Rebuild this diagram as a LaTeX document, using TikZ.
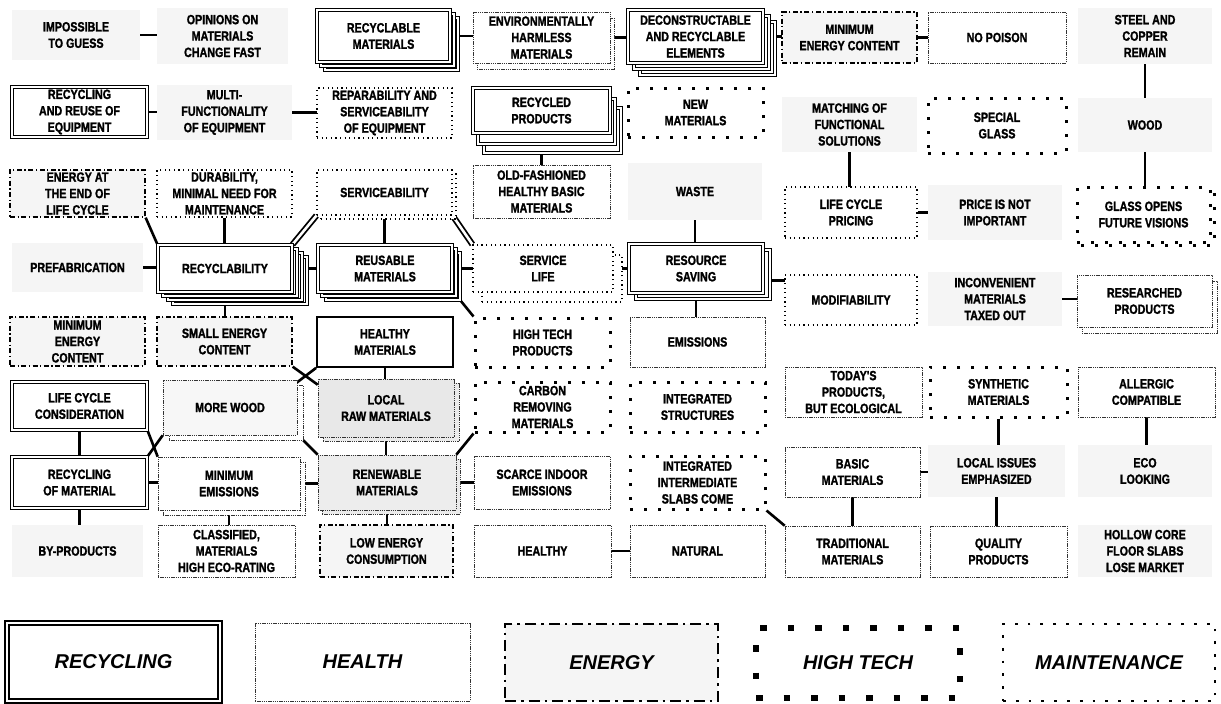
\documentclass[tikz,border=0pt]{standalone}
\usepackage{fontspec}
\setmainfont{Liberation Sans}
\newfontfamily\labfont{Liberation Sans Bold}[FakeStretch=0.8, FakeBold=1.5]
\usetikzlibrary{shadows}
\pgfdeclarelayer{background}
\pgfsetlayers{background,main}

\tikzset{
  lbl/.style={align=center, inner sep=1pt, font=\labfont\fontsize{13.4}{16.4}\selectfont},
  % border types of the five categories
  recline/.style={draw=black, line width=1.1pt, double=white, double distance=1.5pt},
  hline/.style={draw=black!80, line width=0.6pt, dash pattern=on 1.4pt off 0.8pt},
  eline/.style={draw=black, line width=1.3pt, dash pattern=on 5pt off 2.5pt on 1.3pt off 2.5pt},
  tline/.style={draw=black, line width=3pt, dash pattern=on 3pt off 11pt},
  mline/.style={draw=black, line width=1.2pt, dash pattern=on 1.2pt off 3.4pt},
  speck/.style={fill=black!4},
  recbox/.style={lbl, recline, fill=white},
  hbox/.style={lbl, hline, fill=white},
  ebox/.style={lbl, eline, speck},
  tbox/.style={lbl, tline, fill=white},
  mbox/.style={lbl, mline, fill=white},
  pbox/.style={lbl, speck},
  sbox/.style={lbl, draw=black, line width=1.8pt, fill=white},
  % stacked copies behind a box
  rshadow/.style 2 args={copy shadow={shadow xshift=#1pt, shadow yshift=-#2pt, recline, fill=white}},
  hshadow/.style 2 args={copy shadow={shadow xshift=#1pt, shadow yshift=-#2pt, hline, fill=white}},
  hsshadow/.style 2 args={copy shadow={shadow xshift=#1pt, shadow yshift=-#2pt, hline, fill=black!8}},
  mshadow/.style 2 args={copy shadow={shadow xshift=#1pt, shadow yshift=-#2pt, mline, fill=white}},
  tshadow/.style 2 args={copy shadow={shadow xshift=#1pt, shadow yshift=-#2pt, tline, fill=white}},
  % connectors
  conn/.style={line width=2.6pt, line cap=butt},
  dconn/.style={line width=1.8pt, double=white, double distance=2.6pt},
  % legend
  lg/.style={align=center, font=\bfseries\itshape\fontsize{20}{24}\selectfont},
  lrec/.style={lg, draw=black, line width=1.6pt, double=white, double distance=2pt, fill=white},
  lhea/.style={lg, hline, fill=white},
  lene/.style={lg, draw=black, line width=2.6pt, dash pattern=on 11pt off 5pt on 2.6pt off 5pt, speck},
  ltec/.style={lg, draw=black, line width=6.5pt, dash pattern=on 6.5pt off 21pt, fill=white},
  lmai/.style={lg, draw=black, line width=2.8pt, dash pattern=on 2.8pt off 10pt, fill=white},
}

% name, style, x1, y1, x2, y2, text
\newcommand\placebox[7]{%
  \pgfmathsetmacro\pbw{#5-#3}%
  \pgfmathsetmacro\pbh{#6-#4}%
  \node[#2, minimum width=\pbw pt, minimum height=\pbh pt] (#1) at ({(#3+#5)/2},{(#4+#6)/2}) {#7};}

\begin{document}
\begin{tikzpicture}[x=1pt,y=-1pt]
\useasboundingbox (0,0) rectangle (1221,704);
\begin{pgfonlayer}{background}
  \fill[white] (0,0) rectangle (1221,704);
\end{pgfonlayer}

% row 1
\placebox{n1}{pbox}{12}{10}{140}{60}{IMPOSSIBLE\\TO GUESS}
\placebox{n2}{pbox}{157}{8}{288}{64}{OPINIONS ON\\MATERIALS\\CHANGE FAST}
\placebox{n3}{recbox, rshadow={8}{8}, rshadow={4}{4}}{317}{10}{450}{62}{RECYCLABLE\\MATERIALS}
\placebox{n4}{hbox, hshadow={4}{6}}{473}{12}{610}{63}{ENVIRONMENTALLY\\HARMLESS\\MATERIALS}
\placebox{n5}{recbox, rshadow={12}{12}, rshadow={6}{6}}{628}{10}{763}{63}{DECONSTRUCTABLE\\AND RECYCLABLE\\ELEMENTS}
\placebox{n6}{ebox}{782}{12}{917}{63}{MINIMUM\\ENERGY CONTENT}
\placebox{n7}{hbox}{928}{12}{1066}{63}{NO POISON}
\placebox{n8}{pbox}{1078}{8}{1212}{64}{STEEL AND\\COPPER\\REMAIN}

% row 2
\placebox{n9}{recbox}{12}{87}{147}{137}{RECYCLING\\AND REUSE OF\\EQUIPMENT}
\placebox{n10}{pbox}{157}{85}{292}{140}{MULTI-\\FUNCTIONALITY\\OF EQUIPMENT}
\placebox{n11}{mbox}{317}{88}{452}{138}{REPARABILITY AND\\SERVICEABILITY\\OF EQUIPMENT}
\placebox{n12}{recbox, rshadow={11}{20}, rshadow={5}{11}}{473}{88}{610}{133}{RECYCLED\\PRODUCTS}
\placebox{n13}{tbox}{628}{88}{763}{137}{NEW\\MATERIALS}
\placebox{n14}{pbox}{782}{97}{917}{152}{MATCHING OF\\FUNCTIONAL\\SOLUTIONS}
\placebox{n15}{tbox}{928}{98}{1066}{153}{SPECIAL\\GLASS}
\placebox{n16}{pbox}{1078}{98}{1212}{152}{WOOD}

% row 3
\placebox{n17}{ebox}{10}{170}{145}{217}{ENERGY AT\\THE END OF\\LIFE CYCLE}
\placebox{n18}{mbox}{157}{170}{292}{217}{DURABILITY,\\MINIMAL NEED FOR\\MAINTENANCE}
\placebox{n19}{mbox, mshadow={4}{4}}{317}{170}{452}{215}{SERVICEABILITY}
\placebox{n20}{hbox}{473}{165}{610}{218}{OLD-FASHIONED\\HEALTHY BASIC\\MATERIALS}
\placebox{n21}{pbox}{628}{163}{762}{220}{WASTE}
\placebox{n22}{mbox}{785}{187}{917}{238}{LIFE CYCLE\\PRICING}
\placebox{n23}{pbox}{928}{185}{1062}{240}{PRICE IS NOT\\IMPORTANT}
\placebox{n24}{tbox, tshadow={4}{3}}{1077}{187}{1210}{242}{GLASS OPENS\\FUTURE VISIONS}

% row 4
\placebox{n25}{pbox}{12}{243}{143}{292}{PREFABRICATION}
\placebox{n26}{recbox, rshadow={15}{12}, rshadow={10}{8}, rshadow={5}{4}}{158}{245}{292}{292}{RECYCLABILITY}
\placebox{n27}{recbox, rshadow={8}{8}, rshadow={4}{4}}{318}{245}{452}{292}{REUSABLE\\MATERIALS}
\placebox{n28}{mbox, mshadow={9}{10}}{473}{245}{613}{292}{SERVICE\\LIFE}
\placebox{n29}{recbox, rshadow={7}{6}}{629}{244}{763}{293}{RESOURCE\\SAVING}
\placebox{n30}{mbox}{785}{275}{917}{325}{MODIFIABILITY}
\placebox{n31}{pbox}{928}{272}{1062}{326}{INCONVENIENT\\MATERIALS\\TAXED OUT}
\placebox{n32}{hbox, hshadow={5}{6}}{1077}{275}{1212}{327}{RESEARCHED\\PRODUCTS}

% row 5
\placebox{n33}{ebox}{10}{317}{145}{366}{MINIMUM\\ENERGY\\CONTENT}
\placebox{n34}{ebox}{157}{317}{292}{366}{SMALL ENERGY\\CONTENT}
\placebox{n35}{sbox}{317}{317}{453}{367}{HEALTHY\\MATERIALS}
\placebox{n36}{tbox}{475}{318}{610}{367}{HIGH TECH\\PRODUCTS}
\placebox{n37}{hbox}{630}{317}{765}{367}{EMISSIONS}

% row 6
\placebox{n38}{recbox}{12}{382}{147}{430}{LIFE CYCLE\\CONSIDERATION}
\placebox{n39}{hbox, fill=black!3, hshadow={6}{5}}{163}{380}{297}{435}{MORE WOOD}
\placebox{n40}{hbox, fill=black!9, hsshadow={5}{4}}{318}{379}{454}{437}{LOCAL\\RAW MATERIALS}
\placebox{n41}{tbox}{475}{382}{610}{432}{CARBON\\REMOVING\\MATERIALS}
\placebox{n42}{tbox}{630}{382}{765}{432}{INTEGRATED\\STRUCTURES}
\placebox{n43}{hbox}{785}{367}{922}{417}{TODAY'S\\PRODUCTS,\\BUT ECOLOGICAL}
\placebox{n44}{tbox}{930}{367}{1067}{417}{SYNTHETIC\\MATERIALS}
\placebox{n45}{hbox}{1078}{367}{1215}{417}{ALLERGIC\\COMPATIBLE}

% row 7
\placebox{n46}{recbox}{12}{457}{147}{508}{RECYCLING\\OF MATERIAL}
\placebox{n47}{hbox, hshadow={5}{5}}{158}{457}{300}{510}{MINIMUM\\EMISSIONS}
\placebox{n48}{hbox, fill=black!7, hsshadow={4}{4}}{318}{455}{456}{510}{RENEWABLE\\MATERIALS}
\placebox{n49}{hbox}{474}{456}{610}{509}{SCARCE INDOOR\\EMISSIONS}
\placebox{n50}{tbox}{630}{456}{765}{509}{INTEGRATED\\INTERMEDIATE\\SLABS COME}
\placebox{n51}{hbox}{785}{447}{920}{497}{BASIC\\MATERIALS}
\placebox{n52}{pbox}{928}{445}{1065}{497}{LOCAL ISSUES\\EMPHASIZED}
\placebox{n53}{pbox}{1078}{445}{1212}{497}{ECO\\LOOKING}

% row 8
\placebox{n54}{pbox}{12}{525}{143}{577}{BY-PRODUCTS}
\placebox{n55}{hbox}{158}{525}{295}{577}{CLASSIFIED,\\MATERIALS\\HIGH ECO-RATING}
\placebox{n56}{ebox}{320}{525}{453}{577}{LOW ENERGY\\CONSUMPTION}
\placebox{n57}{hbox}{474}{525}{611}{577}{HEALTHY}
\placebox{n58}{hbox}{630}{525}{765}{577}{NATURAL}
\placebox{n59}{hbox}{785}{526}{920}{577}{TRADITIONAL\\MATERIALS}
\placebox{n60}{hbox}{930}{526}{1067}{577}{QUALITY\\PRODUCTS}
\placebox{n61}{pbox}{1078}{525}{1212}{577}{HOLLOW CORE\\FLOOR SLABS\\LOSE MARKET}

% legend
\placebox{L1}{lrec}{7}{623}{220}{701}{RECYCLING}
\placebox{L2}{lhea}{255}{623}{470}{701}{HEALTH}
\placebox{L3}{lene}{505}{624}{718}{701}{ENERGY}
\placebox{L4}{ltec}{756}{628}{960}{698}{HIGH TECH}
\placebox{L5}{lmai}{1003}{624}{1215}{701}{MAINTENANCE}

\coordinate (k1) at ([yshift=-12pt]n29.center);

% connectors, kept behind the boxes
\begin{pgfonlayer}{background}
  % horizontal links
  \draw[conn] (n1) -- (n1 -| n2);
  \draw[conn] (n3) -- (n3 -| n4);
  \draw[conn] (n4) -- (n4 -| n5);
  \draw[conn] (n5) -- (n5 -| n6);
  \draw[conn] (n6) -- (n6 -| n7);
  \draw[conn] (n9) -- (n9 -| n10);
  \draw[conn] (n10) -- (n10 -| n11);
  \draw[conn] (n22) -- (n22 -| n23);
  \draw[conn] (n25) -- (n25 -| n26);
  \draw[conn] (n26) -- (n26 -| n27);
  \draw[conn] (n27) -- (n27 -| n28);
  \draw[conn] (n28) -- (n28 -| n29);
  \draw[conn] (k1) -- (k1 -| n30);
  \draw[conn] (n31) -- (n31 -| n32);
  \draw[conn] (n46) -- (n46 -| n47);
  \draw[conn] (n47) -- (n47 -| n48);
  \draw[conn] (n48) -- (n48 -| n49);
  \draw[conn] (n51) -- (n51 -| n52);
  \draw[conn] (n57) -- (n57 -| n58);
  % vertical links
  \draw[conn] (n8) -- (n8 |- n16);
  \draw[conn] (n16) -- (n16 |- n24);
  \draw[conn] (n12) -- (n12 |- n20);
  \draw[conn] (n14) -- (n14 |- n22);
  \draw[conn] (n18) -- (n18 |- n26);
  \draw[conn] (n19) -- (n19 |- n27);
  \draw[conn] (n21) -- (n21 |- n29);
  \draw[conn] (n26) -- (n26 |- n34);
  \draw[conn] (n29) -- (n29 |- n37);
  \draw[conn] (n35) -- (n35 |- n40);
  \draw[conn] (n40) -- (n40 |- n48);
  \draw[conn] (n48) -- (n48 |- n56);
  \draw[conn] (n38) -- (n38 |- n46);
  \draw[conn] (n46) -- (n46 |- n54);
  \draw[conn] (n47) -- (n47 |- n55);
  \draw[conn] (n44) -- (n44 |- n52);
  \draw[conn] (n52) -- (n52 |- n60);
  \draw[conn] (n45) -- (n45 |- n53);
  \draw[conn] (n51) -- (n51 |- n59);
  % diagonal links
  \draw[conn] (n17.south east) -- (n26.north west);
  \draw[dconn] (n19.south west) -- (n26.north east);
  \draw[dconn] (n19.south east) -- (n28.north west);
  \draw[conn] ([xshift=8pt,yshift=-8pt]n27.south east) -- (n36.north west);
  \draw[conn] (n34.south east) -- ([yshift=-6pt]n40.north west);
  \draw[conn] (n35.south west) -- ([xshift=-2pt,yshift=-4pt]n39.north east);
  \draw[conn] (n38.south east) -- (n47.north west);
  \draw[conn] (n39.south west) -- (n46.north east);
  \draw[conn] ([xshift=6pt,yshift=-5pt]n39.south east) -- (n48.north west);
  \draw[conn] (n41.south west) -- (n48.north east);
  \draw[conn] (n50.south east) -- (n59.north west);
\end{pgfonlayer}
\end{tikzpicture}
\end{document}
